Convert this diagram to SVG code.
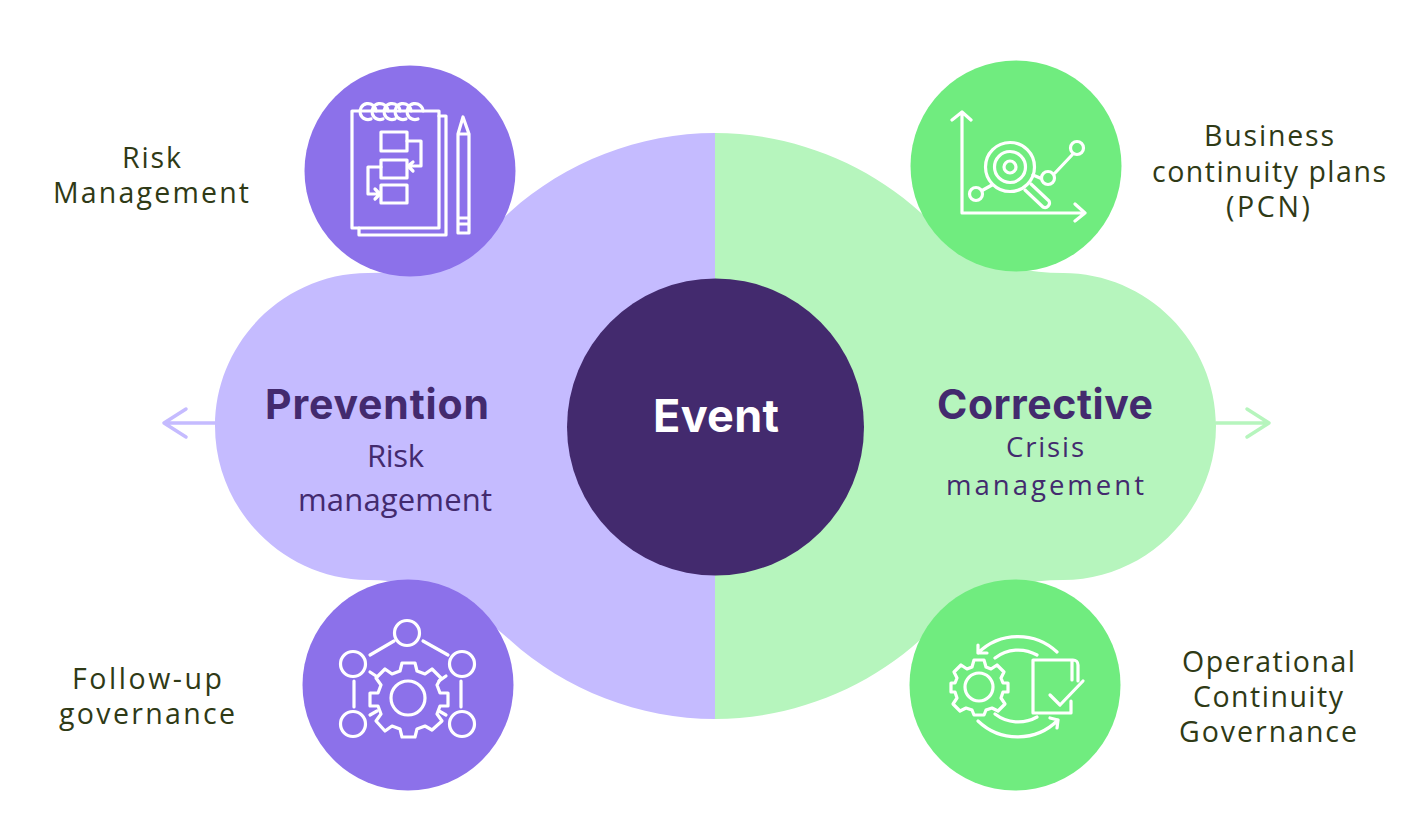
<svg xmlns="http://www.w3.org/2000/svg" width="1416" height="817" viewBox="0 0 1416 817">
<style>
.ic{fill:none;stroke:#fff;stroke-width:3.2;stroke-linejoin:round;stroke-linecap:round}
.lb{font-family:"Open Sans","Noto Sans",sans-serif;font-size:28.500px;font-weight:500;fill:#2f3a16;text-anchor:middle}
.h{font-family:"Inter","Open Sans",sans-serif;font-size:41px;font-weight:700;fill:#432a6e;text-anchor:middle}
.s{font-family:"Open Sans","Noto Sans",sans-serif;font-size:31px;fill:#432a6e;text-anchor:middle}
.s2{font-size:27.500px}
</style>
<rect width="1416" height="817" fill="#fff"/>
<g id="connectors" fill="none" stroke-width="3.5" stroke-linecap="round" stroke-linejoin="round">
<path stroke="#c5bbff" d="M216 423H164M186 409L164 423L186 437"/>
<path stroke="#b6f5bd" d="M1216 423H1269M1247 409L1269 423L1247 437"/>
</g>
<g id="node-prevention">
<path fill="#c5bbff" d="M715 133C640 133 565 162 510 212C470 250 430 273 368 273C284 273 215 342 215 426C215 510 284 580 368 580C430 580 470 605 510 640C565 690 640 719 715 719Z"/>
<text class="h" x="377" y="419" textLength="224">Prevention</text>
<text class="s" x="395.500" y="467" textLength="57">Risk</text>
<text class="s" x="395" y="511" textLength="194">management</text>
</g>
<g id="node-corrective">
<path fill="#b6f5bd" d="M715 133C790 133 865 162 920 212C960 250 1000 273 1063 273C1147 273 1216 342 1216 426C1216 510 1147 580 1063 580C1000 580 960 605 920 640C865 690 790 719 715 719Z"/>
<text class="h" x="1045" y="419" textLength="216">Corrective</text>
<text class="s s2" x="1045" y="457" textLength="78">Crisis</text>
<text class="s s2" x="1045" y="495" textLength="198">management</text>
</g>
<g id="node-event">
<circle cx="715.500" cy="427" r="148.500" fill="#432a6e"/>
<text x="716" y="432" font-family="Inter,Open Sans,sans-serif" font-size="45" font-weight="700" fill="#fff" text-anchor="middle" textLength="126">Event</text>
</g>
<g id="node-risk-management">
<circle cx="410" cy="171" r="105.500" fill="#8c71ea"/>
<g class="ic">
<rect x="352" y="111" width="87" height="117"/>
<path d="M439 116H446V235H359V228"/>
<path d="M371 119A8 8 0 1 1 376 111M383 119A8 8 0 1 1 388 111M395 119A8 8 0 1 1 400 111M406 119A8 8 0 1 1 411 111M418 119A8 8 0 1 1 423 111"/>
<rect x="381" y="132" width="26" height="19"/>
<rect x="381" y="160" width="26" height="18"/>
<rect x="381" y="185" width="26" height="18"/>
<path d="M407 141H421V166H408M413 162L408 166L413 171"/>
<path d="M381 167H368V194H380M375 189L380 194L375 199"/>
<path d="M458 134L463 117L469 134V233H458ZM458 134H469M458 218H469M458 224H469"/>
</g>
</g>
<g id="node-business-continuity">
<circle cx="1016" cy="166" r="105.500" fill="#70ec7f"/>
<g class="ic">
<path d="M962 113V213H1085M952 120L962 112L971 120M1075 204L1085 213L1075 221"/>
<circle cx="1010" cy="167" r="24.500"/><circle cx="1010" cy="167" r="15.500"/><circle cx="1010" cy="167" r="6"/>
<path d="M1031 184L1049 201A4.500 4.500 0 0 1 1043 207L1025 190M992 185L983 190M1033 175L1040 178M1055 173L1072 155"/>
<circle cx="976" cy="194" r="6.500"/><circle cx="1048" cy="178" r="6.500"/><circle cx="1077" cy="148" r="6.500"/>
</g>
</g>
<g id="node-follow-up">
<circle cx="408" cy="685" r="105.500" fill="#8c71ea"/>
<g class="ic">
<circle cx="407" cy="633" r="12.500"/><circle cx="353" cy="664" r="12.500"/><circle cx="462" cy="664" r="12.500"/><circle cx="353" cy="724" r="12.500"/><circle cx="462" cy="724" r="12.500"/>
<path d="M370 655L394 641M423 641L448 655M354 681V707M461 681V707M370 672L376 676M446 676L439 681M370 715L377 711M446 715L439 711"/>
<circle cx="408" cy="698" r="17"/>
<path d="M402 663H415L417 671L425 674L432 669L441 678L437 685L440 693H448V706H440L437 714L442 721L432 730L425 726L417 729L415 737H402L400 729L392 726L385 731L376 721L381 714L378 706H370V693H378L381 685L376 678L385 669L392 674L400 671Z"/>
</g>
</g>
<g id="node-operational">
<circle cx="1015" cy="685" r="105.500" fill="#70ec7f"/>
<g class="ic">
<path d="M1057 652A57 57 0 0 0 978 653M978 645V653H987"/>
<path d="M995 658A38 38 0 0 1 1037 655M995 714A38 38 0 0 0 1037 717"/>
<path d="M978 721A57 57 0 0 0 1058 720M1050 718L1058 720L1057 728"/>
<circle cx="979" cy="687" r="14"/>
<path d="M974 660H984L986 667L991 669L997 665L1004 672L1001 678L1003 683H1008V692H1003L1001 698L1005 704L998 711L992 708L986 710L984 715H974L972 710L966 708L960 711L953 704L957 698L955 692H951V683H955L957 678L954 672L961 665L967 669L972 667Z"/>
<path d="M1071 701V713H1033V660H1073A5 5 0 0 1 1078 665V681M1072 660V680"/>
<path d="M1050 695L1060 705L1083 681"/>
</g>
</g>
<g id="labels">
<text class="lb" x="151.500" y="168" textLength="59">Risk</text><text class="lb" x="151" y="203" textLength="196">Management</text>
<text class="lb" x="1269" y="146" textLength="130">Business</text><text class="lb" x="1269" y="182" textLength="234">continuity plans</text><text class="lb" x="1268" y="217" textLength="84">(PCN)</text>
<text class="lb" x="147" y="689" textLength="150">Follow-up</text><text class="lb" x="147" y="724" textLength="176">governance</text>
<text class="lb" x="1268.500" y="672" textLength="173">Operational</text><text class="lb" x="1268" y="707" textLength="150">Continuity</text><text class="lb" x="1268" y="742" textLength="178">Governance</text>
</g>
</svg>
